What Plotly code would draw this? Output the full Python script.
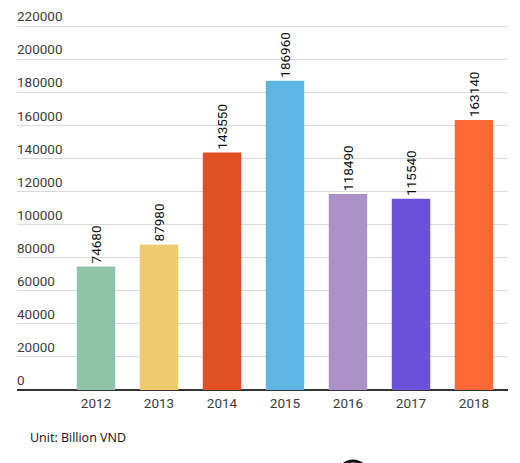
import plotly.graph_objects as go

years = ["2012", "2013", "2014", "2015", "2016", "2017", "2018"]
values = [74680, 87980, 143550, 186960, 118490, 115540, 163140]
colors = ["#8FC4A9", "#EECB6C", "#E14F25", "#5DB5E3", "#AB91C8", "#6B51D8", "#FF6937"]
y_ticks = [0, 20000, 40000, 60000, 80000, 100000, 120000, 140000, 160000, 180000, 200000, 220000]
unit_label = "Unit: Billion VND"

# the page body adds an 8px margin; work in page pixels and shift
OFF = 8
W, H = 520 - OFF, 463 - OFF
px_per_unit = (390 - 26) / 220000
L = 17 - OFF
R = W - (508 - OFF)
B = H - (390 - OFF)
T = 0
plot_h = H - B - T
Y_TOP = plot_h / px_per_unit

fig = go.Figure()
fig.add_trace(go.Bar(
    x=years, y=values,
    marker=dict(color=colors, line=dict(width=0)),
    text=[str(v) for v in values],
    textposition="outside",
    textangle=-90,
    textfont=dict(family="Roboto", size=13.5, color="#111"),
    constraintext="none",
    cliponaxis=False,
    width=0.61,
    hoverinfo="skip",
))

fig.update_layout(
    width=W, height=H,
    margin=dict(l=L, r=R, t=T, b=B, pad=0, autoexpand=False),
    paper_bgcolor="white", plot_bgcolor="white",
    showlegend=False,
    font=dict(family="Roboto", size=13, color="#3d3d3d"),
    xaxis=dict(
        type="category",
        range=[-1.254, 6.54],
        automargin=False,
        showgrid=False, showline=False, ticks="",
        ticklabelstandoff=3,
        tickfont=dict(family="Roboto", size=13.5, color="#3d3d3d"),
    ),
    yaxis=dict(
        range=[0, Y_TOP],
        automargin=False,
        tickvals=y_ticks,
        ticktext=[str(v) for v in y_ticks],
        ticklabelposition="inside top",
        ticklabelstandoff=-3,
        showgrid=True, gridcolor="#DADADA", gridwidth=1,
        zeroline=True, zerolinecolor="#333333", zerolinewidth=2,
        showline=False, ticks="",
        tickfont=dict(family="Roboto", size=13.5, color="#3d3d3d"),
    ),
)

pw, ph = W - L - R, H - T - B
def px(xp):  # page pixel -> paper
    return (xp - OFF - L) / pw
def py(yp):
    return ((H - B) - (yp - OFF)) / ph

fig.add_annotation(
    text=unit_label, xref="paper", yref="paper",
    x=px(28), y=py(438),
    xanchor="left", yanchor="middle", showarrow=False,
    font=dict(family="Open Sans", size=12.5, color="#111"),
)

# partially visible dark ring at the bottom edge of the image
fig.add_shape(type="circle", xref="paper", yref="paper",
              x0=px(338), x1=px(368), y0=py(491), y1=py(461),
              line=dict(color="#111", width=3), fillcolor="rgba(0,0,0,0)")

fig.write_html("out.html")
